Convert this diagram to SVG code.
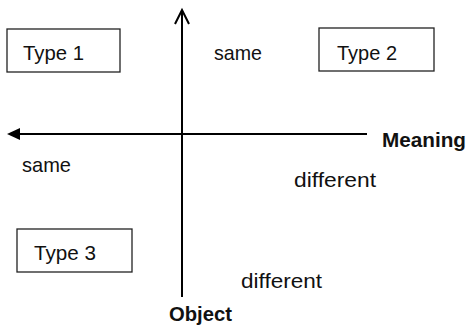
<svg xmlns="http://www.w3.org/2000/svg" width="468" height="331" viewBox="0 0 468 331">
<style>
text{font-family:"Liberation Sans",Arial,sans-serif;font-size:21px;fill:#111}
.b{font-weight:bold;font-size:20px}
.box{fill:#fff;stroke:#222;stroke-width:1.3}
.ax{stroke:#000;stroke-width:2;fill:none}
</style>
<g id="connectors">
<line class="ax" x1="182" y1="297" x2="182" y2="11"/>
<polyline class="ax" points="175,24 182,10 189,24"/>
<line class="ax" x1="367" y1="134" x2="18" y2="134"/>
<polygon points="7,134 20,128 20,140" fill="#000"/>
</g>
<g id="type1"><rect class="box" x="7" y="29" width="113" height="43"/><text x="23" y="60" textLength="61" lengthAdjust="spacingAndGlyphs">Type 1</text></g>
<g id="type2"><rect class="box" x="319" y="28" width="115" height="43"/><text x="337" y="60" textLength="60" lengthAdjust="spacingAndGlyphs">Type 2</text></g>
<g id="type3"><rect class="box" x="17" y="229" width="115" height="43"/><text x="34" y="260" textLength="62" lengthAdjust="spacingAndGlyphs">Type 3</text></g>
<g id="labels">
<text x="214" y="60" textLength="48" lengthAdjust="spacingAndGlyphs">same</text>
<text x="22" y="172" textLength="49" lengthAdjust="spacingAndGlyphs">same</text>
<text x="294" y="187" textLength="82" lengthAdjust="spacingAndGlyphs">different</text>
<text x="241" y="288" textLength="81" lengthAdjust="spacingAndGlyphs">different</text>
<text class="b" x="382" y="147" textLength="84" lengthAdjust="spacingAndGlyphs">Meaning</text>
<text class="b" x="169" y="321" textLength="63" lengthAdjust="spacingAndGlyphs">Object</text>
</g>
</svg>
